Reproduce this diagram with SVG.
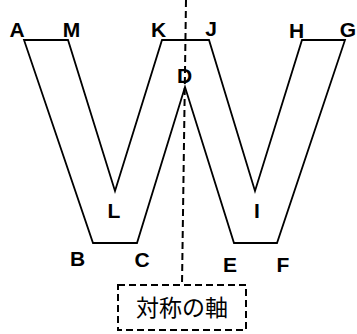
<svg xmlns="http://www.w3.org/2000/svg" width="357" height="334" viewBox="0 0 357 334">
<style>
.lbl{font-family:"Liberation Sans",Arial,sans-serif;font-weight:bold;font-size:21px;fill:#000;text-anchor:middle}
.w{fill:none;stroke:#000;stroke-width:1.8;stroke-linejoin:miter}
.dash{fill:none;stroke:#000;stroke-width:2;stroke-dasharray:7,4}
.cap{font-family:"Noto Sans CJK JP","Noto Sans CJK SC",sans-serif;font-size:23px;fill:#000;text-anchor:middle}
</style>
<rect width="357" height="334" fill="#fff"/>
<g id="shape-W">
<polygon class="w" points="24,40 68,40 115,191 162,40 209,40 255,191 302,40 345,40 277,243 234,243 185,87 137,243 93,243"/>
</g>
<g id="connectors">
<line class="dash" x1="186" y1="0" x2="182" y2="285"/>
</g>
<g id="axis-label">
<rect class="dash" x="118" y="285" width="128" height="45"/>
<text class="cap" x="182" y="316">対称の軸</text>
</g>
<g id="labels">
<text class="lbl" x="17" y="37">A</text>
<text class="lbl" x="71.5" y="37">M</text>
<text class="lbl" x="158.5" y="37">K</text>
<text class="lbl" x="211" y="36">J</text>
<text class="lbl" x="296.5" y="38">H</text>
<text class="lbl" x="348" y="37">G</text>
<text class="lbl" x="184.5" y="83">D</text>
<text class="lbl" x="114" y="218">L</text>
<text class="lbl" x="257" y="218">I</text>
<text class="lbl" x="77.5" y="266">B</text>
<text class="lbl" x="142" y="267">C</text>
<text class="lbl" x="230" y="272">E</text>
<text class="lbl" x="283" y="272">F</text>
</g>
</svg>
